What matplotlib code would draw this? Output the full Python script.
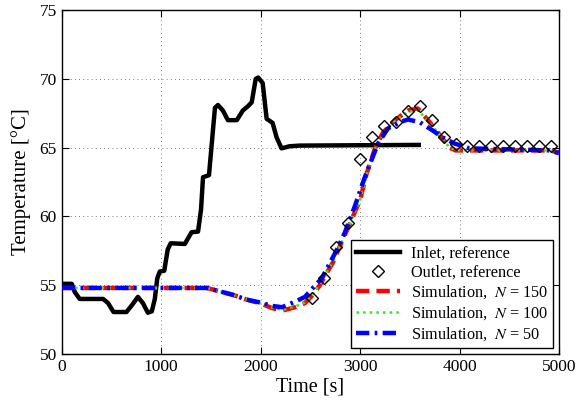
import matplotlib
matplotlib.use('Agg')
import matplotlib.pyplot as plt

# Inlet, reference (black)
t_in = [0, 100, 130, 180, 415, 465, 520, 650, 705, 765, 815, 865, 905, 935, 960, 985,
        1030, 1065, 1095, 1237, 1305, 1370, 1400, 1420, 1480, 1540, 1570, 1620, 1670,
        1760, 1820, 1870, 1910, 1950, 1975, 2020, 2060, 2120, 2160, 2210, 2290, 2390, 3590]
T_in = [55.1, 55.1, 54.5, 54.0, 54.0, 53.7, 53.05, 53.05, 53.55, 54.15, 53.7, 53.0, 53.1,
        54.0, 55.5, 56.0, 56.05, 57.6, 58.05, 58.0, 58.85, 58.9, 60.5, 62.85, 63.0, 67.9,
        68.1, 67.7, 67.0, 67.0, 67.7, 68.0, 68.3, 70.0, 70.1, 69.7, 67.1, 66.8, 65.75,
        64.95, 65.1, 65.15, 65.2]

# Outlet, reference (diamonds)
t_out = [2520, 2640, 2760, 2880, 3000, 3120, 3240, 3360, 3480, 3600, 3720, 3840, 3960,
         4080, 4200, 4320, 4440, 4560, 4680, 4800, 4920]
T_out = [54.1, 55.5, 57.8, 59.5, 64.2, 65.75, 66.55, 66.9, 67.7, 68.0, 67.0, 65.75, 65.3,
         65.15, 65.15, 65.15, 65.15, 65.15, 65.15, 65.15, 65.15]

# Simulation N = 150 (red)
t_150 = [0, 1460, 1590, 1720, 1860, 1990, 2110, 2215, 2345, 2445, 2525, 2595, 2665, 2730,
         2800, 2880, 3000, 3065, 3150, 3230, 3350, 3480, 3580, 3700, 3820, 3900, 3960,
         4075, 4900, 5000]
T_150 = [54.8, 54.8, 54.55, 54.3, 53.95, 53.7, 53.35, 53.15, 53.4, 53.7, 54.3, 55.0, 55.9,
         56.7, 57.9, 59.2, 61.2, 63.1, 64.95, 66.1, 67.0, 67.7, 67.85, 66.85, 65.75, 65.0,
         64.8, 64.8, 64.8, 64.65]

# Simulation N = 100 (green)
t_100 = [0, 1460, 1590, 1720, 1860, 1990, 2110, 2215, 2345, 2445, 2525, 2595, 2665, 2730,
         2800, 2880, 3000, 3065, 3150, 3230, 3350, 3480, 3580, 3700, 3820, 3900, 3960,
         4075, 4900, 5000]
T_100 = [54.8, 54.8, 54.55, 54.3, 53.95, 53.7, 53.38, 53.2, 53.45, 53.75, 54.35, 55.05, 55.95,
         56.75, 57.9, 59.2, 61.2, 63.0, 64.9, 66.0, 66.95, 67.6, 67.75, 66.8, 65.75, 65.0,
         64.82, 64.8, 64.8, 64.65]

# Simulation N = 50 (blue)
t_50 = [0, 1460, 1590, 1720, 1860, 1990, 2110, 2215, 2345, 2445, 2525, 2615, 2695, 2775,
        2845, 2950, 3050, 3180, 3280, 3400, 3480, 3600, 3730, 3830, 3950, 4100, 4900, 5000]
T_50 = [54.8, 54.8, 54.55, 54.3, 53.95, 53.75, 53.5, 53.4, 53.8, 54.15, 54.8, 55.5, 56.6,
        57.7, 58.8, 60.8, 62.9, 65.3, 66.4, 66.85, 67.05, 66.85, 66.25, 65.75, 65.3, 64.95,
        64.8, 64.6]

plt.rcParams['font.family'] = ['Liberation Serif', 'DejaVu Serif']
plt.rcParams['mathtext.fontset'] = 'stix'

fig = plt.figure(figsize=(5.78, 4.05), dpi=100)
ax = fig.add_axes([0.107, 0.126, 0.86, 0.849])

ax.plot(t_in, T_in, color='k', lw=3.2, label='Inlet, reference', zorder=3)
ax.plot(t_out, T_out, 'D', mfc='none', mec='k', mew=1.0, ms=6.5, label='Outlet, reference', zorder=5)
ax.plot(t_150, T_150, color='r', ls='--', lw=3.2, dashes=(3, 1.6), label=r'Simulation,  $N$ = 150', zorder=4)
ax.plot(t_100, T_100, color='#22ee22', ls=':', lw=1.8, label=r'Simulation,  $N$ = 100', zorder=4)
ax.plot(t_50, T_50, color='b', ls='-.', lw=3.2, dashes=(3, 1.2, 0.6, 1.2), label=r'Simulation,  $N$ = 50', zorder=4)

ax.set_xlim(0, 5000)
ax.set_ylim(50, 75)
ax.set_xticks([0, 1000, 2000, 3000, 4000, 5000])
ax.set_yticks([50, 55, 60, 65, 70, 75])
ax.tick_params(direction='in', top=True, right=True, length=5, labelsize=12.5, width=0.8)
ax.grid(True, color='k', ls=(0, (1, 4)), lw=0.6, alpha=0.7)
for s in ax.spines.values():
    s.set_linewidth(1.0)

ax.set_xlabel('Time [s]', fontsize=14.5, labelpad=2)
ax.set_ylabel('Temperature [°C]', fontsize=15, labelpad=6)

leg = ax.legend(loc='lower right', fontsize=11.7, fancybox=False, framealpha=1,
                edgecolor='k', handlelength=2.7, borderaxespad=0.35, labelspacing=0.2,
                borderpad=0.3, handletextpad=0.7)
leg.get_frame().set_linewidth(1.0)

fig.savefig('out.png', dpi=100)
